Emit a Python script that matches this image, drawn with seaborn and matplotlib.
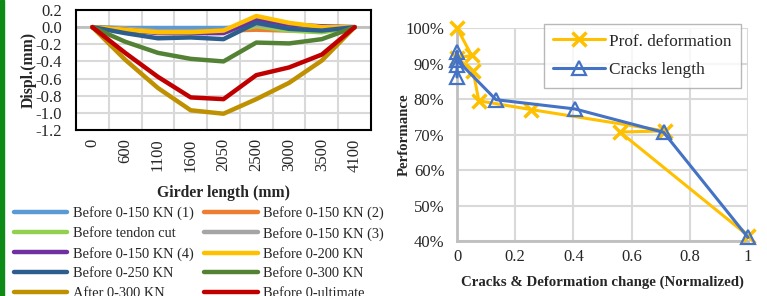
import numpy as np
import pandas as pd
import matplotlib
matplotlib.use("Agg")
import matplotlib.pyplot as plt
import seaborn as sns
from matplotlib.patches import Rectangle
from matplotlib.ticker import FuncFormatter, FixedLocator

# ---- data: left chart (displacement along girder) ----
girder_pos = ["0", "600", "1100", "1600", "2050", "2500", "3000", "3500", "4100"]
series_names = ["Before 0-150 KN (1)", "Before 0-150 KN (2)", "Before tendon cut",
                "Before 0-150 KN (3)", "Before 0-150 KN (4)", "Before 0-200 KN",
                "Before 0-250 KN", "Before 0-300 KN", "After 0-300 KN",
                "Before 0-ultimate"]
series_colors = ["#5B9BD5", "#ED7D31", "#92D050", "#A5A5A5", "#7030A0",
                 "#FFC000", "#2E5E8E", "#548235", "#BF9000", "#C00000"]
d_150_1 = [0, -0.01, -0.01, -0.01, -0.01, 0.0, 0.0, 0.0, 0]
d_150_2 = [0, -0.02, -0.05, -0.05, -0.04, -0.03, -0.04, -0.03, 0]
d_tendon = [0, -0.02, -0.06, -0.06, -0.06, 0.01, -0.04, -0.06, 0]
d_150_3 = [0, -0.02, -0.05, -0.05, -0.05, 0.03, -0.01, -0.03, 0]
d_150_4 = [0, -0.03, -0.07, -0.07, -0.07, 0.09, 0.03, 0.01, 0]
d_200 = [0, -0.03, -0.06, -0.06, -0.04, 0.13, 0.05, 0.0, 0]
d_250 = [0, -0.07, -0.13, -0.12, -0.14, 0.05, -0.02, -0.04, 0]
d_300 = [0, -0.17, -0.30, -0.37, -0.40, -0.18, -0.19, -0.14, 0]
d_after_300 = [0, -0.38, -0.71, -0.97, -1.01, -0.84, -0.65, -0.39, 0]
d_ultimate = [0, -0.30, -0.58, -0.82, -0.84, -0.56, -0.47, -0.32, 0]
displ = [d_150_1, d_150_2, d_tendon, d_150_3, d_150_4, d_200,
         d_250, d_300, d_after_300, d_ultimate]

# ---- data: right chart (performance) ----
prof_x = [0, 0.05, 0, 0.055, 0.075, 0.256, 0.715, 0.56, 1.0]
prof_y = [1.00, 0.923, 0.915, 0.88, 0.795, 0.77, 0.71, 0.707, 0.415]
crack_x = [0, 0, 0, 0, 0.134, 0.405, 0.71, 1.0]
crack_y = [0.862, 0.896, 0.933, 0.91, 0.798, 0.772, 0.706, 0.41]

sns.set_style("white")
plt.rcParams["font.family"] = ["Liberation Serif", "DejaVu Serif"]
plt.rcParams["axes.unicode_minus"] = False

fig = plt.figure(figsize=(7.67, 2.96), dpi=100)
W, H = 767, 296

def box(l, t, r, b):
    return [l / W, 1 - b / H, (r - l) / W, (b - t) / H]

# green page strip on the left edge
fig.patches.append(Rectangle((0, 0), 4 / W, 1, transform=fig.transFigure,
                             color="#0E8A16", zorder=0))

# ---- left chart ----
ax1 = fig.add_axes(box(76, 10, 371, 130))
idx = np.arange(len(girder_pos))
ax1.axhline(0, color="#BFBFBF", lw=2, zorder=1)
handles = []
for name, col, vals in zip(series_names, series_colors, displ):
    sns.lineplot(x=idx, y=vals, color=col, lw=3.2, ax=ax1, label=name,
                 legend=False, zorder=3)
    handles.append(ax1.lines[-1])
ax1.set_xlim(-0.5, len(girder_pos) - 0.5)
ax1.set_ylim(-1.2, 0.2)
ax1.set_yticks(np.arange(-1.2, 0.21, 0.2))
ax1.yaxis.set_major_formatter(FuncFormatter(lambda v, p: f"{round(v, 1) + 0.0:.1f}"))
ax1.set_xticks(idx)
ax1.set_xticklabels(girder_pos, rotation=90)
ax1.xaxis.set_minor_locator(FixedLocator(idx[:-1] + 0.5))
ax1.grid(True, axis="y", which="major", color="#D9D9D9", lw=1.5, zorder=0)
ax1.grid(True, axis="x", which="minor", color="#D9D9D9", lw=1.5, zorder=0)
ax1.tick_params(axis="both", which="both", length=0, labelsize=12)
ax1.tick_params(axis="y", pad=10)
ax1.tick_params(axis="x", pad=6)
for s in ax1.spines.values():
    s.set_visible(True)
    s.set_color("black")
    s.set_linewidth(1.5)
ax1.set_xlabel("Girder length (mm)", fontsize=11.3, fontweight="bold", labelpad=10)
ax1.set_ylabel("Displ.(mm)", fontsize=11.3, fontweight="bold", labelpad=-1)

# legend below, filled row by row (last row is cut by the page edge, as in the source)
order = [0, 2, 4, 6, 8, 1, 3, 5, 7, 9]
fig.legend([handles[i] for i in order], [series_names[i] for i in order],
           loc="upper left", bbox_to_anchor=(14 / W, 1 - 206 / H), ncol=2,
           frameon=False, fontsize=10.4, handlelength=3.7, handletextpad=0.4,
           columnspacing=0.7, labelspacing=0.47, borderaxespad=0, borderpad=0)
for line in fig.legends[0].get_lines():
    line.set_linewidth(3.2)
    line.set_solid_capstyle("round")

# ---- right chart ----
ax2 = fig.add_axes(box(457, 28, 748, 241))
sns.lineplot(x=prof_x, y=prof_y, sort=False, estimator=None, color="#FFC000",
             lw=2.2, marker="x", markersize=10, markeredgewidth=2.5,
             markeredgecolor="#FFC000", ax=ax2, label="Prof. deformation",
             zorder=3)
sns.lineplot(x=crack_x, y=crack_y, sort=False, estimator=None, color="#4472C4",
             lw=2.2, marker="^", markersize=10, markeredgewidth=1.6,
             markerfacecolor="none", markeredgecolor="#4472C4", ax=ax2,
             label="Cracks length", zorder=4)
ax2.set_xlim(0, 1)
ax2.set_ylim(0.4, 1.0)
ax2.set_xticks([0, 0.2, 0.4, 0.6, 0.8, 1.0])
ax2.set_xticklabels(["0", "0.2", "0.4", "0.6", "0.8", "1"])
ax2.set_yticks(np.arange(0.4, 1.01, 0.1))
ax2.yaxis.set_major_formatter(FuncFormatter(lambda v, p: f"{v * 100:.0f}%"))
ax2.grid(True, color="#D9D9D9", lw=1.5, zorder=0)
ax2.set_axisbelow(True)
ax2.tick_params(axis="both", length=0, labelsize=12)
ax2.tick_params(axis="y", pad=9)
ax2.tick_params(axis="x", pad=6)
for k in ["top", "right"]:
    ax2.spines[k].set_visible(False)
for k in ["left", "bottom"]:
    ax2.spines[k].set_color("#BFBFBF")
    ax2.spines[k].set_linewidth(2)
for art in ax2.lines:
    art.set_clip_on(False)
ax2.set_xlabel("Cracks & Deformation change (Normalized)", fontsize=10.7,
               fontweight="bold", labelpad=7)
ax2.set_ylabel("Performance", fontsize=10.7, fontweight="bold", labelpad=-4)
leg = ax2.legend(loc="upper left", bbox_to_anchor=((544 - 457) / 291, 1 - (24 - 28) / 213),
                 fontsize=12.4, frameon=True, fancybox=False, edgecolor="#A6A6A6",
                 handlelength=3.0, handletextpad=0.25, borderpad=0.55,
                 labelspacing=0.75, borderaxespad=0)
leg.get_frame().set_linewidth(1)

fig.savefig("out.png", dpi=100)
